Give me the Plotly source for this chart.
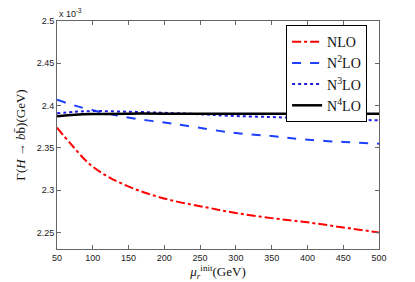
import plotly.graph_objects as go

# scale mu_r^init (GeV)
x_nlo = [50, 70, 94, 117, 140, 173, 210, 257, 300, 350, 400, 450, 500]
y_nlo = [2.374, 2.354, 2.332, 2.318, 2.308, 2.297, 2.288, 2.280, 2.273, 2.267, 2.262, 2.256, 2.250]

x_n2lo = [50, 75, 103, 130, 163, 200, 233, 295, 350, 394, 450, 500]
y_n2lo = [2.407, 2.400, 2.394, 2.389, 2.384, 2.380, 2.376, 2.368, 2.364, 2.360, 2.357, 2.355]

x_n3lo = [50, 75, 100, 150, 200, 250, 290, 350, 400, 450, 500]
y_n3lo = [2.391, 2.3927, 2.3935, 2.3928, 2.3915, 2.3898, 2.388, 2.3865, 2.385, 2.3837, 2.3825]

x_n4lo = [50, 75, 100, 150, 200, 300, 400, 500]
y_n4lo = [2.3875, 2.3892, 2.390, 2.3905, 2.3905, 2.3905, 2.3905, 2.3905]

names = ["NLO", "N<sup>2</sup>LO", "N<sup>3</sup>LO", "N<sup>4</sup>LO"]
y_ticks = [2.25, 2.3, 2.35, 2.4, 2.45, 2.5]
y_tick_text = ["2.25", "2.3", "2.35", "2.4", "2.45", "2.5"]
x_ticks = [50, 100, 150, 200, 250, 300, 350, 400, 450, 500]

fig = go.Figure()
fig.add_trace(go.Scatter(x=x_nlo, y=y_nlo, mode="lines", name=names[0], line_shape="spline",
                         line=dict(color="#ff0000", width=2, dash="dashdot")))
fig.add_trace(go.Scatter(x=x_n2lo, y=y_n2lo, mode="lines", name=names[1], line_shape="spline",
                         line=dict(color="#1f3fff", width=2, dash="dash")))
fig.add_trace(go.Scatter(x=x_n3lo, y=y_n3lo, mode="lines", name=names[2], line_shape="spline",
                         line=dict(color="#1f1fdf", width=2, dash="dot")))
fig.add_trace(go.Scatter(x=x_n4lo, y=y_n4lo, mode="lines", name=names[3], line_shape="spline",
                         line=dict(color="#000000", width=2.5)))

axis_common = dict(showline=True, linecolor="#666666", linewidth=1, mirror="ticks",
                   ticks="inside", ticklen=4, tickcolor="#666666", showgrid=False, zeroline=False,
                   automargin=False,
                   tickfont=dict(family="Liberation Sans", size=9, color="#222"))

fig.update_xaxes(range=[50, 500], tickvals=x_ticks, **axis_common,
                 title=dict(text="<i>μ</i><sub><i>r</i></sub><sup>init</sup>(GeV)",
                            font=dict(family="Liberation Serif", size=13, color="#111"), standoff=2))
fig.update_yaxes(range=[2.2305, 2.5], tickvals=y_ticks, ticktext=y_tick_text, **axis_common,
                 title=dict(text="Γ(<i>H</i> → <i>b</i>b̄)(GeV)",
                            font=dict(family="Liberation Serif", size=13, color="#111"), standoff=8))

fig.add_annotation(text="x 10<sup>-3</sup>", xref="paper", yref="paper", x=0.0, y=1.0,
                   xanchor="left", yanchor="bottom", showarrow=False,
                   font=dict(family="Liberation Sans", size=9, color="#222"), yshift=0)

fig.update_layout(
    width=415, height=282,
    margin=dict(l=57, r=36, t=21, b=33),
    plot_bgcolor="white", paper_bgcolor="white",
    legend=dict(x=0.963, y=0.982, xanchor="right", yanchor="top",
                bordercolor="black", borderwidth=1, bgcolor="white",
                font=dict(family="Liberation Serif", size=14, color="#111"),
                tracegroupgap=0, itemwidth=30),
    showlegend=True,
)

fig.write_html("out.html", config={"displayModeBar": False},
               post_script="document.body.style.margin='0';document.body.style.overflow='hidden';")
